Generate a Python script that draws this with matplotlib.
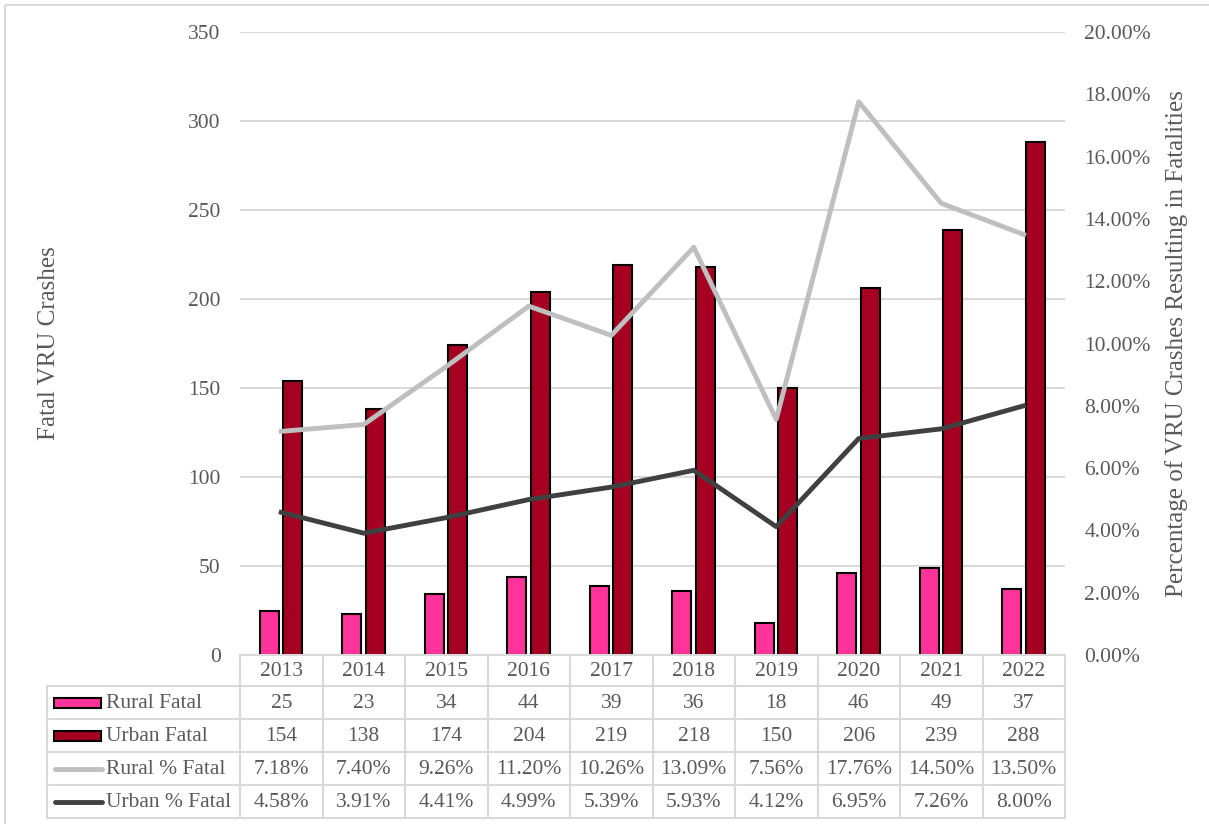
import numpy as np
import matplotlib
matplotlib.use('Agg')
from matplotlib import pyplot as plt
from matplotlib.patches import Rectangle
from matplotlib.lines import Line2D

years = ['2013', '2014', '2015', '2016', '2017', '2018', '2019', '2020', '2021', '2022']
rural_fatal = [25, 23, 34, 44, 39, 36, 18, 46, 49, 37]
urban_fatal = [154, 138, 174, 204, 219, 218, 150, 206, 239, 288]
rural_pct = [7.18, 7.40, 9.26, 11.20, 10.26, 13.09, 7.56, 17.76, 14.50, 13.50]
urban_pct = [4.58, 3.91, 4.41, 4.99, 5.39, 5.93, 4.12, 6.95, 7.26, 8.00]

PINK = '#FF3399'
MAROON = '#A50021'
LGRAY = '#BFBFBF'
DGRAY = '#404040'
TXT = '#595959'
GRID = '#D9D9D9'

matplotlib.rcParams.update({'font.family': 'Liberation Serif', 'font.size': 15.5})

W, H = 1209, 824
fig = plt.figure(figsize=(W / 100, H / 100), dpi=100)

# plot area in pixels
x0, x1 = 240, 1065
y_top, y_bot = 32, 655
ax = fig.add_axes([x0 / W, 1 - y_bot / H, (x1 - x0) / W, (y_bot - y_top) / H])

x = np.arange(len(years))
bw = 0.235
ax.bar(x - 0.145, rural_fatal, bw, color=PINK, edgecolor='black', linewidth=1.5, zorder=3)
ax.bar(x + 0.14, urban_fatal, bw, color=MAROON, edgecolor='black', linewidth=1.5, zorder=3)
ax.set_xlim(-0.5, len(years) - 0.5)
ax.set_ylim(0, 350)
ax.set_yticks(range(0, 351, 50))
ax.set_xticks([])
ax.grid(axis='y', color=GRID, linewidth=1.5, zorder=0)
ax.set_axisbelow(True)
for s in ax.spines.values():
    s.set_visible(False)
ax.tick_params(axis='y', length=0, pad=14, labelcolor=TXT)
ax.set_ylabel('Fatal VRU Crashes', color=TXT, fontsize=18, labelpad=92)

ax2 = ax.twinx()
ax2.plot(x, np.array(rural_pct) / 100, color=LGRAY, linewidth=3.5, zorder=4)
ax2.plot(x, np.array(urban_pct) / 100, color=DGRAY, linewidth=3.5, zorder=4)
ax2.set_ylim(0, 0.20)
ax2.set_yticks(np.arange(0, 0.2001, 0.02))
ax2.set_yticklabels(['{:.2f}%'.format(v * 100) for v in np.arange(0, 0.2001, 0.02)])
for s in ax2.spines.values():
    s.set_visible(False)
ax2.tick_params(axis='y', length=0, pad=14, labelcolor=TXT)
ax2.set_ylabel('Percentage of VRU Crashes Resulting in Fatalities', color=TXT,
               fontsize=18, labelpad=10)

# overlay in pixel coordinates for the data table and the outer frame
ov = fig.add_axes([0, 0, 1, 1], zorder=5)
ov.set_xlim(0, W)
ov.set_ylim(H, 0)
ov.axis('off')
ov.patch.set_alpha(0)

ov.add_patch(Rectangle((5, 5), W, H, fill=False, edgecolor=GRID, linewidth=1.5))

col_w = (x1 - x0) / len(years)
row_y = [655, 686, 719, 752, 785, 818]
left = 47
lw_tab = 1.5

# header row
ov.plot([x0, x1], [row_y[0], row_y[0]], color=GRID, lw=lw_tab)
for i in range(len(years) + 1):
    ov.plot([x0 + i * col_w] * 2, [row_y[0], row_y[-1]], color=GRID, lw=lw_tab)
for i, yr in enumerate(years):
    ov.text(x0 + (i + 0.5) * col_w, (row_y[0] + row_y[1]) / 2 + 1, yr,
            ha='center', va='center', color=TXT)
for r in range(1, len(row_y)):
    ov.plot([left, x1], [row_y[r], row_y[r]], color=GRID, lw=lw_tab)
ov.plot([left, left], [row_y[1], row_y[-1]], color=GRID, lw=lw_tab)

labels = ['Rural Fatal', 'Urban Fatal', 'Rural % Fatal', 'Urban % Fatal']
rows = [[str(v) for v in rural_fatal],
        [str(v) for v in urban_fatal],
        ['{:.2f}%'.format(v) for v in rural_pct],
        ['{:.2f}%'.format(v) for v in urban_pct]]
for r, (lab, vals) in enumerate(zip(labels, rows)):
    yc = (row_y[r + 1] + row_y[r + 2]) / 2
    if r < 2:
        ov.add_patch(Rectangle((54, yc - 5), 47, 10, facecolor=[PINK, MAROON][r],
                               edgecolor='black', linewidth=1.5))
    else:
        ov.add_line(Line2D([55, 102], [yc, yc], color=[LGRAY, DGRAY][r - 2],
                           lw=3.5, solid_capstyle='round'))
    ov.text(106, yc + 1, lab, ha='left', va='center', color=TXT)
    for i, v in enumerate(vals):
        ov.text(x0 + (i + 0.5) * col_w, yc + 1, v, ha='center', va='center', color=TXT)

plt.savefig('out.png', dpi=100)
plt.close()
